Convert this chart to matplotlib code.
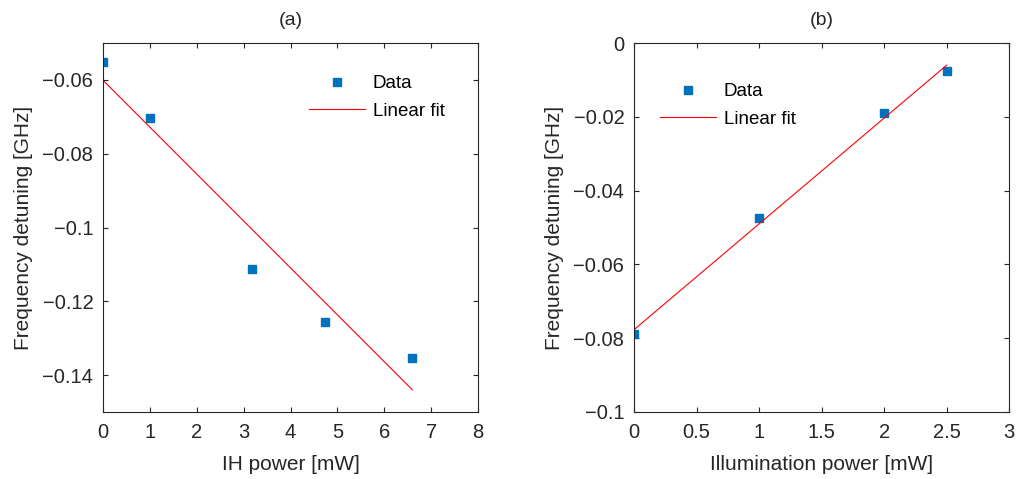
import matplotlib
matplotlib.use("Agg")
import matplotlib.pyplot as plt

# Panel (a)
ih_power = [0.0, 1.0, 3.18, 4.74, 6.6]
ih_detuning = [-0.0551, -0.0704, -0.1112, -0.1257, -0.1353]
ih_fit_x = [0.0, 6.6]
ih_fit_y = [-0.0601, -0.1440]

# Panel (b)
ill_power = [0.0, 1.0, 2.0, 2.5]
ill_detuning = [-0.0789, -0.0475, -0.0191, -0.0075]
ill_fit_x = [0.0, 2.5]
ill_fit_y = [-0.0777, -0.0060]

plt.rcParams['font.family'] = ['Liberation Sans', 'DejaVu Sans']
TXT = '#262626'
BLUE = '#0072BD'
TICK_FS = 14.5
LABEL_FS = 15
LEG_FS = 13.5
TITLE_FS = 14

fig = plt.figure(figsize=(10.17, 4.79), dpi=100)
ax1 = fig.add_axes([0.1013, 0.1399, 0.3687, 0.7703])
ax2 = fig.add_axes([0.6234, 0.1399, 0.3690, 0.7703])

def style(ax):
    for s in ax.spines.values():
        s.set_color(TXT)
        s.set_linewidth(0.8)
    ax.tick_params(direction='in', top=True, right=True, length=3.5, width=0.8,
                   color=TXT, labelcolor=TXT, labelsize=TICK_FS)
    ax.tick_params(axis='x', pad=8)
    ax.tick_params(axis='y', pad=7)

ax1.plot(ih_power, ih_detuning, 's', color=BLUE, ms=6, label='Data')
ax1.plot(ih_fit_x, ih_fit_y, '-', color='red', lw=0.8, label='Linear fit')
ax1.set_xlim(0, 8)
ax1.set_ylim(-0.15, -0.05)
ax1.set_xticks(range(0, 9))
ax1.set_yticks([-0.14, -0.12, -0.10, -0.08, -0.06])
ax1.set_yticklabels(['\u22120.14', '\u22120.12', '\u22120.1', '\u22120.08', '\u22120.06'])
ax1.set_xlabel('IH power [mW]', fontsize=LABEL_FS, color=TXT, labelpad=9)
ax1.set_ylabel('Frequency detuning [GHz]', fontsize=LABEL_FS, color=TXT, labelpad=7)
ax1.set_title('(a)', fontsize=TITLE_FS, color=TXT, pad=13)
style(ax1)
ax1.legend(loc='center left', bbox_to_anchor=(0.549, 0.852), frameon=False,
           fontsize=LEG_FS, handlelength=3, handletextpad=0.4, borderpad=0,
           borderaxespad=0, labelcolor='black', labelspacing=0.55)

ax2.plot(ill_power, ill_detuning, 's', color=BLUE, ms=6, label='Data')
ax2.plot(ill_fit_x, ill_fit_y, '-', color='red', lw=0.8, label='Linear fit')
ax2.set_xlim(0, 3)
ax2.set_ylim(-0.1, 0)
ax2.set_xticks([0, 0.5, 1, 1.5, 2, 2.5, 3])
ax2.set_xticklabels(['0', '0.5', '1', '1.5', '2', '2.5', '3'])
ax2.set_yticks([-0.1, -0.08, -0.06, -0.04, -0.02, 0])
ax2.set_yticklabels(['\u22120.1', '\u22120.08', '\u22120.06', '\u22120.04', '\u22120.02', '0'])
ax2.set_xlabel('Illumination power [mW]', fontsize=LABEL_FS, color=TXT, labelpad=9)
ax2.set_ylabel('Frequency detuning [GHz]', fontsize=LABEL_FS, color=TXT, labelpad=7)
ax2.set_title('(b)', fontsize=TITLE_FS, color=TXT, pad=13)
style(ax2)
ax2.legend(loc='center left', bbox_to_anchor=(0.0693, 0.831), frameon=False,
           fontsize=LEG_FS, handlelength=3, handletextpad=0.4, borderpad=0,
           borderaxespad=0, labelcolor='black', labelspacing=0.55)

fig.savefig('out.png', dpi=100)
